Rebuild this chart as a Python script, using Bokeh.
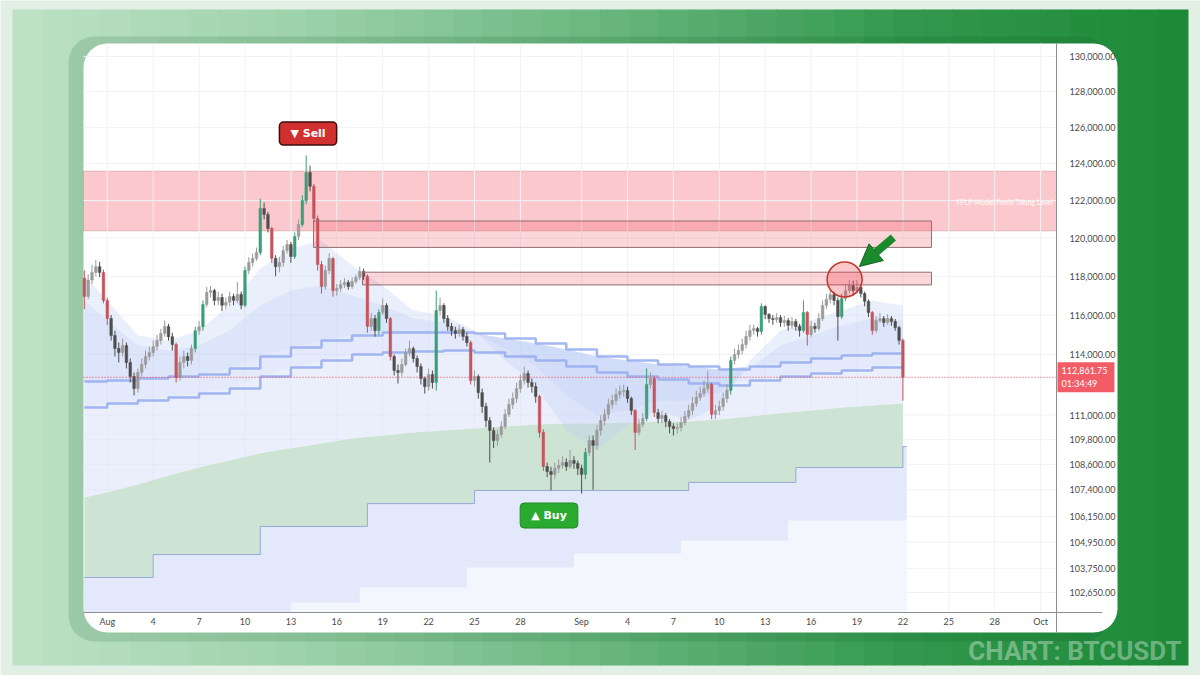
from bokeh.plotting import figure
from bokeh.models import (Range1d, FixedTicker, NumeralTickFormatter, BoxAnnotation,
                          Label, Arrow, NormalHead, ColumnDataSource)
from bokeh.embed import file_html
from bokeh.resources import INLINE

K = 1000  # prices below are in thousands of USDT

# BTCUSDT 6h candles, x = days since Aug 1 00:00
T0 = -1.5
STEP = 0.25
first_open = 117.9
closes = [
    116.95, 117.8, 118.2, 118.5, 118.2, 116.75, 115.82, 114.96, 114.3, 114.1,
    114.45, 113.6, 112.9, 112.3, 113.1, 113.5, 113.9, 114.1, 114.4, 114.71,
    115.06, 115.42, 114.9, 114.5, 112.85, 113.6, 113.9, 113.7, 114.3, 115.2,
    115.4, 116.54, 117.16, 117.26, 116.75, 116.9, 116.5, 116.65, 116.95, 116.75,
    117.05, 116.5, 118.3, 118.72, 118.93, 119.24, 121.58, 121.26, 120.51, 118.93,
    118.5, 118.72, 119.35, 119.66, 119.03, 120.09, 120.72, 122.0, 123.52, 122.77,
    121.04, 118.61, 117.47, 118.3, 118.93, 117.26, 117.37, 117.57, 117.68, 117.47,
    117.73, 117.94, 118.25, 117.99, 115.42, 115.82, 115.21, 116.13, 116.49, 115.82,
    113.9, 113.2, 113.1, 113.5, 114.1, 114.3, 113.8, 113.4, 112.8, 112.4,
    113.0, 112.6, 116.23, 116.49, 115.82, 115.42, 115.21, 115.06, 115.26, 114.91,
    114.6, 112.7, 112.9, 112.1, 111.42, 110.73, 110.25, 109.76, 110.05, 110.44,
    111.03, 111.52, 111.81, 112.3, 112.7, 113.05, 112.6, 112.4, 111.91, 110.15,
    108.51, 108.27, 108.13, 108.42, 108.56, 108.71, 108.51, 108.8, 108.66, 108.42,
    108.13, 109.18, 109.76, 109.52, 110.25, 110.73, 111.03, 111.52, 111.71, 112.01,
    112.16, 112.21, 111.81, 111.22, 110.15, 110.54, 110.83, 112.5, 112.8, 111.12,
    110.83, 110.98, 110.68, 110.44, 110.34, 110.39, 110.63, 110.93, 111.22, 111.57,
    111.86, 112.06, 112.3, 112.5, 111.03, 111.22, 111.42, 111.81, 112.21, 113.7,
    114.0, 114.2, 114.5, 114.91, 115.21, 115.31, 115.16, 116.44, 116.03, 115.82,
    115.77, 115.87, 115.62, 115.72, 115.47, 115.67, 115.42, 115.21, 116.13, 115.01,
    115.42, 115.31, 115.82, 116.49, 116.8, 117.05, 116.75, 115.92, 116.85, 117.26,
    117.52, 117.26, 117.42, 117.1, 116.7, 116.13, 115.21, 115.72, 115.82, 115.62,
    115.82, 115.67, 115.36, 114.71, 112.862,
]
highs = [
    118.3, 118.1, 118.6, 118.85, 118.75, 118.35, 116.9, 116.0, 115.2, 114.6,
    114.8, 114.6, 113.8, 113.1, 113.3, 113.8, 114.2, 114.4, 114.7, 115.0,
    115.3, 115.72, 115.55, 115.1, 114.6, 113.9, 114.2, 114.1, 114.5, 115.4,
    115.7, 116.75, 117.45, 117.5, 117.35, 117.2, 117.1, 116.9, 117.2, 117.1,
    117.7, 117.2, 118.5, 119.0, 119.2, 119.5, 122.1, 121.9, 121.4, 120.6,
    119.1, 119.0, 119.6, 119.9, 119.8, 120.3, 121.0, 122.3, 124.45, 123.9,
    122.9, 121.2, 118.8, 118.55, 119.2, 119.0, 117.6, 117.8, 117.9, 117.8,
    117.95, 118.1, 118.5, 118.4, 118.1, 116.1, 116.0, 116.3, 116.85, 116.6,
    115.9, 114.0, 113.5, 113.8, 114.3, 114.7, 114.4, 113.95, 113.55, 112.9,
    113.3, 113.2, 117.26, 116.9, 116.6, 116.0, 115.6, 115.4, 115.5, 115.4,
    115.1, 114.7, 113.2, 113.0, 112.3, 111.6, 110.9, 110.4, 110.3, 110.7,
    111.3, 111.8, 112.1, 112.6, 113.0, 113.4, 113.2, 112.8, 112.6, 112.0,
    110.3, 108.7, 108.5, 108.7, 108.85, 109.0, 108.9, 109.3, 109.0, 108.8,
    108.6, 109.4, 110.0, 110.0, 110.5, 111.0, 111.3, 111.8, 112.0, 112.3,
    112.45, 112.5, 112.4, 111.9, 111.3, 110.8, 111.1, 113.3, 113.1, 112.9,
    111.3, 111.2, 111.1, 110.8, 110.6, 110.6, 110.9, 111.2, 111.5, 111.9,
    112.2, 112.4, 112.7, 113.2, 112.6, 111.5, 111.7, 112.1, 112.5, 113.9,
    114.3, 114.5, 114.8, 115.2, 115.5, 115.5, 115.4, 116.6, 116.5, 116.1,
    116.0, 116.1, 116.0, 115.95, 115.85, 115.9, 115.8, 115.55, 116.75, 116.2,
    115.7, 115.6, 116.1, 116.75, 117.1, 117.35, 117.2, 116.9, 117.1, 117.6,
    117.8, 117.78, 117.8, 117.6, 117.2, 116.8, 116.2, 115.95, 116.1, 115.95,
    116.05, 115.95, 115.8, 115.45, 114.8,
]
lows = [
    116.3, 116.8, 117.6, 118.0, 117.95, 116.6, 115.5, 114.7, 113.9, 113.6,
    113.9, 113.3, 112.6, 111.96, 112.1, 112.9, 113.3, 113.7, 113.9, 114.2,
    114.5, 114.9, 114.7, 114.2, 112.6, 112.7, 113.3, 113.4, 113.5, 114.1,
    115.0, 115.2, 116.4, 116.9, 116.5, 116.5, 116.2, 116.3, 116.45, 116.5,
    116.6, 116.3, 116.4, 118.1, 118.5, 118.8, 119.1, 121.0, 120.3, 118.7,
    118.0, 118.2, 118.5, 119.2, 118.7, 118.9, 119.9, 120.6, 121.8, 122.5,
    120.8, 118.3, 117.1, 117.3, 118.1, 116.95, 117.0, 117.2, 117.4, 117.3,
    117.35, 117.6, 117.8, 117.8, 115.1, 115.2, 114.9, 115.0, 116.0, 115.6,
    113.7, 112.95, 112.55, 112.9, 113.4, 113.9, 113.6, 113.1, 112.5, 112.05,
    112.2, 112.3, 112.2, 116.0, 115.6, 115.2, 114.95, 114.8, 114.9, 114.7,
    114.4, 112.5, 112.4, 111.8, 111.1, 110.4, 108.7, 109.4, 109.5, 109.9,
    110.3, 110.9, 111.3, 111.6, 112.1, 112.5, 112.35, 112.1, 111.6, 109.9,
    108.3, 108.0, 107.37, 107.9, 108.2, 108.4, 108.3, 108.4, 108.4, 108.1,
    107.22, 107.9, 109.0, 107.4, 109.3, 110.0, 110.5, 110.8, 111.3, 111.5,
    111.8, 111.9, 111.6, 111.0, 109.3, 110.0, 110.4, 110.7, 112.3, 110.9,
    110.6, 110.6, 110.4, 110.1, 110.0, 110.1, 110.2, 110.5, 110.8, 111.0,
    111.4, 111.7, 111.9, 112.1, 110.8, 110.8, 111.0, 111.2, 111.6, 112.0,
    113.5, 113.8, 114.0, 114.3, 114.7, 115.0, 114.9, 115.0, 115.8, 115.6,
    115.5, 115.6, 115.4, 115.4, 115.2, 115.3, 115.2, 114.9, 115.1, 114.45,
    114.9, 115.1, 115.2, 115.7, 116.3, 116.6, 116.5, 114.7, 115.8, 116.7,
    117.1, 117.0, 117.1, 116.9, 116.45, 115.9, 115.0, 115.1, 115.6, 115.4,
    115.5, 115.45, 115.2, 114.5, 111.7,
]
last_price = 112861.75
countdown = "01:34:49"

# indicator bands sampled every two days
samp_days = [-1.5, 0, 2, 4, 6, 8, 10, 12, 14, 16, 18, 20, 22, 24, 26, 28, 30, 32, 34, 36,
             38, 40, 42, 44, 46, 48, 50, 52]
band_hi = [112.65, 112.7, 112.8, 112.9, 113.0, 113.3, 113.9, 114.35, 114.71, 114.96, 115.11,
           115.11, 115.11, 115.06, 114.81, 114.55, 114.25, 113.9, 113.7, 113.5, 113.4, 113.25,
           113.4, 113.6, 113.8, 113.95, 114.05, 114.2]
band_lo = [111.37, 111.57, 111.71, 111.86, 112.06, 112.3, 112.9, 113.35, 113.7, 114.0, 114.1,
           114.15, 114.2, 114.1, 113.9, 113.7, 113.4, 113.1, 112.9, 112.75, 112.55, 112.45,
           112.7, 112.9, 113.05, 113.2, 113.35, 113.55]
fast = [118.05, 116.75, 114.96, 114.71, 115.21, 116.49, 118.4, 119.45, 119.87, 118.56, 117.52,
        116.23, 115.98, 115.21, 113.7, 112.45, 110.25, 109.28, 110.49, 111.22, 110.73, 111.47,
        113.7, 115.21, 115.72, 116.23, 116.75, 116.49]
mid = [116.75, 115.72, 114.45, 114.2, 114.45, 115.21, 116.49, 117.26, 117.52, 117.0, 116.49,
       115.82, 115.62, 115.11, 114.3, 113.45, 111.96, 110.98, 111.22, 111.71, 111.71, 112.11,
       113.3, 114.45, 114.96, 115.47, 115.82, 115.72]
green_top = [107.04, 107.28, 107.65, 108.08, 108.46, 108.8, 109.14, 109.38, 109.62, 109.86,
             110.0, 110.15, 110.25, 110.34, 110.44, 110.54, 110.59, 110.59, 110.63, 110.68,
             110.68, 110.78, 110.93, 111.08, 111.22, 111.37, 111.47, 111.57]

# weekly stair (floor of the green zone) and the paler band under it
stair_days = [-1.5, 3, 10, 17, 24, 31, 38, 45, 52, 52.25]
stair_lvl = [103.33, 104.38, 105.68, 106.75, 107.37, 107.37, 107.75, 108.46, 109.47, 109.47]
light_days = [12.0, 16.5, 23.5, 30.5, 37.5, 44.5, 52.25]
light_lvl = [102.2, 102.88, 103.78, 104.43, 105.03, 105.96, 105.96]

# profit-taking zone and open supply boxes
pt_top, pt_bottom = 123.6, 120.38
box_left = [13.48, 16.68]
box_right = [53.87, 53.87]
box_top = [120.91, 118.21]
box_bottom = [119.51, 117.55]

# callouts (day, price in thousands)
sell_at = (13.12, 125.66)
buy_at = (28.87, 106.19)
touch_at = (48.19, 117.83)
arrow_from = (51.38, 120.03)
arrow_to = (49.16, 118.51)
pt_label_at = (61.78, 121.95)

tick_days = [0, 3, 6, 9, 12, 15, 18, 21, 24, 27, 31, 34, 37, 40, 43, 46, 49, 52, 55, 58, 61]
tick_names = ["Aug", "4", "7", "10", "13", "16", "19", "22", "25", "28",
              "Sep", "4", "7", "10", "13", "16", "19", "22", "25", "28", "Oct"]
price_ticks = [102650, 103750, 104950, 106150, 107400, 108600, 109800, 111000, 114000,
               116000, 118000, 120000, 122000, 124000, 126000, 128000, 130000]

# the frame covers the whole canvas; the chart pane sits inside it
X_LO, X_HI = -6.98, 71.451          # canvas edges in days
Y_LO, Y_HI = 98961, 133248          # canvas edges in price (log scale)
CH_X0, CH_X1, CARD_X1 = -1.556, 62.04, 65.03
CH_Y0, CH_Y1, CARD_Y0 = 101745, 130747, 100855


def kk(vals):
    return [v * K for v in vals]


def steps(xs, ys):
    px, py = [], []
    for i in range(len(xs)):
        px.append(xs[i])
        py.append(ys[i])
        if i + 1 < len(xs):
            px.append(xs[i + 1])
            py.append(ys[i])
    return px, py


p = figure(width=1200, height=675, x_range=Range1d(X_LO, X_HI), y_range=Range1d(Y_LO, Y_HI),
           y_axis_type="log", y_axis_location="right", output_backend="svg",
           toolbar_location=None, min_border_left=0, min_border_right=0,
           min_border_top=0, min_border_bottom=0)
p.background_fill_color = "#e2efe5"
p.border_fill_color = "#e2efe5"
p.outline_line_color = None
p.grid.visible = False

# --- page decoration (screen px from the canvas bottom-left)
stops = [(12, (190, 226, 199)), (300, (158, 210, 171)), (600, (106, 183, 127)),
         (900, (52, 153, 78)), (1187, (28, 137, 56))]


def grad(x):
    for (x0, c0), (x1, c1) in zip(stops[:-1], stops[1:]):
        if x <= x1:
            f = (x - x0) / (x1 - x0)
            return "#%02x%02x%02x" % tuple(int(a + (b - a) * f) for a, b in zip(c0, c1))
    return "#%02x%02x%02x" % stops[-1][1]


def screen_box(**kw):
    return BoxAnnotation(left_units="screen", right_units="screen", top_units="screen",
                         bottom_units="screen", line_color=None, **kw)


n_strips = 40
w = (1187 - 12) / n_strips
for i in range(n_strips):
    left = 12 + i * w
    p.add_layout(screen_box(left=left, right=left + w + 1, top=666, bottom=10,
                            fill_color=grad(left + w / 2), fill_alpha=1, level="image"))
p.add_layout(screen_box(left=68, right=1108, top=639, bottom=34, fill_color="#0a5522",
                        fill_alpha=0.15, border_radius=26, level="image"))
p.add_layout(screen_box(left=83, right=1117, top=632, bottom=43, fill_color="white",
                        fill_alpha=1, border_radius=24, level="image"))

# --- axes pinned inside the card
p.xaxis.fixed_location = CH_Y0
p.yaxis.fixed_location = CH_X1
p.xaxis.bounds = (CH_X0, CARD_X1)
p.yaxis.bounds = (CARD_Y0, CH_Y1)
p.xaxis.ticker = FixedTicker(ticks=tick_days)
p.xaxis.major_label_overrides = dict(zip(tick_days, tick_names))
p.yaxis.ticker = FixedTicker(ticks=price_ticks)
p.yaxis.formatter = NumeralTickFormatter(format="0,0.00")
for ax in (p.xaxis, p.yaxis):
    ax.axis_line_color = "#8e8e8e"
    ax.major_tick_line_color = None
    ax.minor_tick_line_color = None
    ax.major_label_text_font = "Lato"
    ax.major_label_text_font_size = "9px"
    ax.major_label_text_color = "#4a4a4a"
p.xaxis.major_label_standoff = -3
p.yaxis.major_label_standoff = 7

# faint grid inside the chart pane
p.segment(x0=tick_days, y0=[CH_Y0] * len(tick_days), x1=tick_days, y1=[CH_Y1] * len(tick_days),
          line_color="#f0f2f5", line_width=1)
p.segment(x0=[CH_X0] * len(price_ticks), y0=price_ticks, x1=[CH_X1] * len(price_ticks),
          y1=price_ticks, line_color="#f0f2f5", line_width=1)

# --- indicator zones
floor = [CH_Y0] * len(samp_days)
p.varea(x=samp_days, y1=kk(band_lo), y2=kk(green_top), fill_color="#dae2fa", fill_alpha=0.55)
p.varea(x=samp_days, y1=kk(green_top), y2=floor, fill_color="#cde4d4", fill_alpha=1)
st_x, st_y = steps(stair_days, stair_lvl)
p.varea(x=st_x, y1=kk(st_y), y2=[CH_Y0] * len(st_x), fill_color="#e3e8fb", fill_alpha=1)
lt_x, lt_y = steps(light_days, light_lvl)
p.varea(x=lt_x, y1=kk(lt_y), y2=[CH_Y0] * len(lt_x), fill_color="white", fill_alpha=0.6)
p.line(st_x, kk(st_y), line_color="#98a9d6", line_width=1)

p.varea(x=samp_days, y1=kk(fast), y2=kk(band_hi), fill_color="#b9c9f5", fill_alpha=0.3)
p.varea(x=samp_days, y1=kk(mid), y2=kk(band_hi), fill_color="#b9c9f5", fill_alpha=0.25)
p.varea(x=samp_days, y1=kk(band_hi), y2=kk(band_lo), fill_color="#c4d1f7", fill_alpha=0.45)
p.step(samp_days, kk(band_hi), mode="after", line_color="#98aeee", line_width=2.5, line_alpha=0.9)
p.step(samp_days, kk(band_lo), mode="after", line_color="#98aeee", line_width=2.5, line_alpha=0.9)

# --- profit-taking zone
p.add_layout(BoxAnnotation(left=CH_X0, right=CH_X1, top=pt_top * K, bottom=pt_bottom * K,
                           fill_color="#f23645", fill_alpha=0.27, line_color="#a07478",
                           line_width=1, level="underlay"))

# --- candles
opens = [first_open] + closes[:-1]
xs = [T0 + STEP * i for i in range(len(closes))]


def candle_color(o, c):
    move = c - o
    if move >= 0.9:
        return "#3a9f78"
    if move <= -0.9:
        return "#c4545d"
    return "#9b9b9b" if move >= 0 else "#4f4f4f"


src = ColumnDataSource(dict(
    x=xs,
    top=[max(o, c) * K for o, c in zip(opens, closes)],
    bottom=[min(o, c) * K for o, c in zip(opens, closes)],
    high=kk(highs), low=kk(lows),
    color=[candle_color(o, c) for o, c in zip(opens, closes)],
))
p.segment(x0="x", y0="high", x1="x", y1="low", line_color="color", line_width=1, source=src)
p.vbar(x="x", width=0.17, top="top", bottom="bottom", fill_color="color",
       line_color="color", line_width=0.5, source=src)

p.quad(left=box_left, right=box_right, top=kk(box_top), bottom=kk(box_bottom),
       fill_color="#f23645", fill_alpha=0.2, line_color="#8f6f73", line_width=1)

# last price line
p.segment(x0=[CH_X0], y0=[last_price], x1=[CH_X1], y1=[last_price], line_color="#f23645",
          line_dash="1 2", line_width=1)

# --- callouts
p.scatter(x=[touch_at[0]], y=[touch_at[1] * K], size=35, marker="circle",
          fill_color="#f23645", fill_alpha=0.28, line_color="#c0392b", line_width=1.5)
p.add_layout(Arrow(end=NormalHead(size=22, fill_color="#1b8a2c", line_color="#14641f",
                                  line_width=1),
                   x_start=arrow_from[0], y_start=arrow_from[1] * K,
                   x_end=arrow_to[0], y_end=arrow_to[1] * K,
                   line_color="#1b8a2c", line_width=8))

p.add_layout(Label(x=pt_label_at[0], y=pt_label_at[1] * K, text="FPLP-Model Profit-Taking Level",
                   text_align="right", text_baseline="middle", text_font="Lato",
                   text_font_size="7px", text_color="white"))

p.add_layout(Label(x=sell_at[0], y=sell_at[1] * K, text="\u25bc Sell", text_align="center",
                   text_baseline="middle", text_color="white", text_font="DejaVu Sans",
                   text_font_style="bold", text_font_size="11px",
                   background_fill_color="#d0312f", border_line_color="#3f0c0c",
                   border_line_width=1.5, border_radius=4,
                   padding=dict(left=11, right=11, top=5, bottom=5)))
p.add_layout(Label(x=buy_at[0], y=buy_at[1] * K, text="\u25b2 Buy", text_align="center",
                   text_baseline="middle", text_color="white", text_font="DejaVu Sans",
                   text_font_style="bold", text_font_size="11px",
                   background_fill_color="#2aab2f", border_line_color="#1f8a24",
                   border_line_width=1, border_radius=4,
                   padding=dict(left=11, right=11, top=6, bottom=6)))

p.add_layout(Label(x=1057, x_units="screen", y=last_price,
                   text="%s\n%s" % (format(last_price, ",.2f"), countdown),
                   text_align="left", text_baseline="middle", text_font="Lato",
                   text_font_size="9px", text_color="white",
                   background_fill_color="#f25c67", background_fill_alpha=1,
                   padding=dict(left=4, right=7, top=3, bottom=3)))

p.add_layout(Label(x=1181, y=25, x_units="screen", y_units="screen", text="CHART: BTCUSDT",
                   text_align="right", text_baseline="middle", text_font="Roboto",
                   text_font_style="bold", text_font_size="26px", text_color="white",
                   text_alpha=0.35))

open("out.html", "w").write(file_html(p, INLINE))
